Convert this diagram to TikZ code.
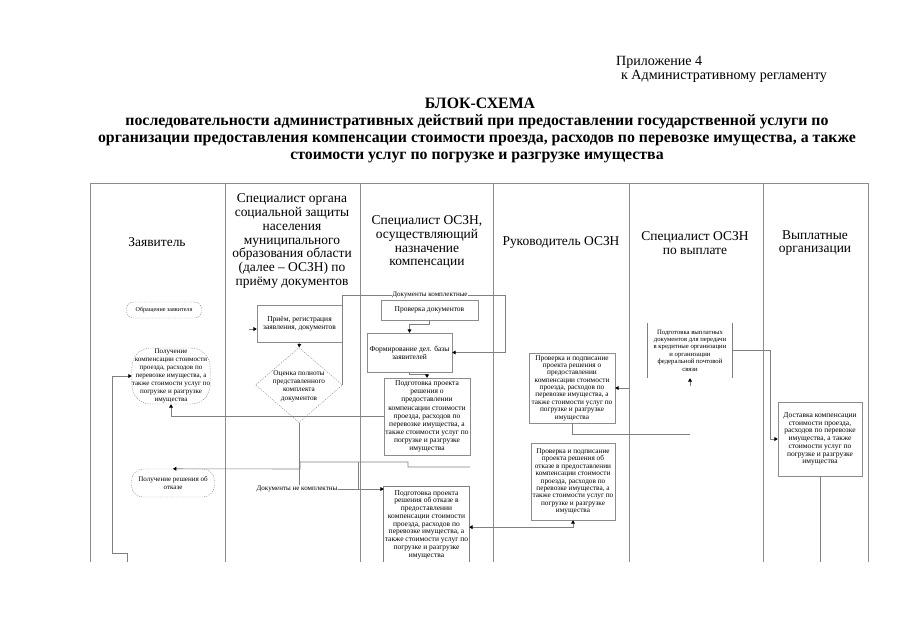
\documentclass[tikz,border=0pt]{standalone}
\usepackage{fontspec}
\setmainfont{Liberation Serif}
\usetikzlibrary{arrows.meta,shapes.geometric}

\begin{document}
\begin{tikzpicture}[x=0.3mm,y=-0.3mm,
  lane/.style={draw=black!45,line width=0.6pt},
  hdr/.style={align=center,font=\fontsize{11.5}{11.8}\selectfont},
  proc/.style={draw=black!45,align=center,inner sep=0.5pt,font=\fontsize{6.4}{6.6}\selectfont},
  term/.style={draw=black!45,dash pattern=on 1pt off 1pt,align=center,inner sep=0pt,font=\fontsize{6}{6.8}\selectfont},
  dec/.style={diamond,draw=black!45,dash pattern=on 1pt off 1pt,inner sep=0pt,font=\fontsize{6.2}{7}\selectfont},
  conn/.style={draw=black!50,line width=0.5pt},
  arr/.style={-{Triangle[length=2.8pt,width=3.2pt,color=black]}},
  lbl/.style={inner sep=0.5pt,font=\fontsize{6}{7}\selectfont}]
\useasboundingbox (0,0) rectangle (905,640);

% heading
\node[anchor=west,font=\fontsize{12}{14}\selectfont] (prilozh) at (612,62) {Приложение 4};
\node[anchor=west,font=\fontsize{12}{14}\selectfont] (reglam) at (617,76) {к Административному регламенту};
\node[font=\bfseries\fontsize{13.5}{15}\selectfont] (blok) at (480,103) {БЛОК-СХЕМА};
\node[align=center,font=\bfseries\fontsize{13.5}{14.6}\selectfont] (zagl) at (477,139)
  {последовательности административных действий при предоставлении государственной услуги по\\
   организации предоставления компенсации стоимости проезда, расходов по перевозке имущества, а также\\
   стоимости услуг по погрузке и разгрузке имущества};

% lanes
\draw[lane] (90,183) -- (868,183);
\foreach \x in {90,225,360,493,629,763,868}
  \draw[lane] (\x,183) -- (\x,562);
\node[hdr] (zayav) at (157,242) {Заявитель};
\node[hdr] (spriem) at (292,241) {Специалист органа\\социальной защиты\\населения\\муниципального\\образования области\\(далее -- ОСЗН) по\\приёму документов};
\node[hdr] (snazn) at (427,242) {Специалист ОСЗН,\\осуществляющий\\назначение\\компенсации};
\node[hdr] (rukov) at (561,242) {Руководитель ОСЗН};
\node[hdr] (svypl) at (695,243) {Специалист ОСЗН\\по выплате};
\node[hdr] (vyplorg) at (815,243) {Выплатные\\организации};

% shapes
\node[term,rounded corners=6pt,minimum width=22.5mm,minimum height=4.8mm,font=\fontsize{5.2}{6}\selectfont] (obr) at (164,310) {Обращение заявителя};
\node[term,rounded corners=16pt,minimum width=23.4mm,minimum height=16.8mm] (polkomp) at (171,376)
  {Получение\\компенсации стоимости\\проезда, расходов по\\перевозке имущества, а\\также стоимости услуг по\\погрузке и разгрузке\\имущества};
\node[term,rounded corners=10pt,minimum width=24.9mm,minimum height=8.4mm] (polotk) at (173,483) {Получение решения об\\отказе};
\node[proc,minimum width=25.5mm,minimum height=11.1mm] (priem) at (299.5,323.5) {Приём, регистрация\\заявления, документов};
\node[dec,minimum width=26.1mm,minimum height=22.5mm] (ocenka) at (299,385)
  {\makebox[0pt]{\smash{\raisebox{-2.5pt}{\begin{tabular}{@{}c@{}}Оценка полноты\\представленного\\комплекта\\документов\end{tabular}}}}};
\node[proc,minimum width=29.1mm,minimum height=6mm] (proverka) at (429.5,310) {Проверка документов};
\node[proc,minimum width=25.5mm,minimum height=11.7mm] (formir) at (409.5,352.5) {Формирование дел. базы\\заявителей};
\node[proc,minimum width=25.8mm,minimum height=23.1mm,font=\fontsize{6.4}{6.9}\selectfont] (podgpred) at (427,416.5)
  {Подготовка проекта\\решения о\\предоставлении\\компенсации стоимости\\проезда, расходов по\\перевозке имущества, а\\также стоимости услуг по\\погрузке и разгрузке\\имущества};
\node[proc,draw=none,minimum width=25.5mm,minimum height=22.5mm] (podgotk) at (426.5,524.5)
  {Подготовка проекта\\решения об отказе в\\предоставлении\\компенсации стоимости\\проезда, расходов по\\перевозке имущества, а\\также стоимости услуг по\\погрузке и разгрузке\\имущества};
\draw[conn] (podgotk.south west) -- (podgotk.north west) -- (podgotk.north east) -- (podgotk.south east);
\node[proc,minimum width=25.8mm,minimum height=21mm,font=\fontsize{6.2}{6.3}\selectfont] (provpred) at (572,388)
  {Проверка и подписание\\проекта решения о\\предоставлении\\компенсации стоимости\\проезда, расходов по\\перевозке имущества, а\\также стоимости услуг по\\погрузке и разгрузке\\имущества};
\node[proc,minimum width=25.2mm,minimum height=23.1mm,font=\fontsize{6.2}{6.3}\selectfont] (provotk) at (573,481.5)
  {Проверка и подписание\\проекта решения об\\отказе в предоставлении\\компенсации стоимости\\проезда, расходов по\\перевозке имущества, а\\также стоимости услуг по\\погрузке и разгрузке\\имущества};
\node[proc,draw=none,minimum width=25.2mm,minimum height=16.5mm,font=\fontsize{5.7}{6.3}\selectfont] (podgvypl) at (690,350.5)
  {Подготовка выплатных\\документов для передачи\\в кредитные организации\\и организации\\федеральной почтовой\\связи};
\draw[conn] (podgvypl.north west) -- (podgvypl.south west);
\draw[conn] (podgvypl.north east) -- (podgvypl.south east);
\node[proc,minimum width=25.2mm,minimum height=22.2mm] (dostavka) at (820,439)
  {Доставка компенсации\\стоимости проезда,\\расходов по перевозке\\имущества, а также\\стоимости услуг по\\погрузке и разгрузке\\имущества};

% connector labels
\node[lbl] (lblkompl) at (430,295) {Документы комплектные};
\node[lbl] (lblnekompl) at (297,489) {Документы не комплектны};

% connectors
\coordinate (priemin) at (249,329);
\draw[conn,arr] (priemin) -- (priemin -| priem.west);
\draw[conn,arr] (priem.south) -- (ocenka.north);
\draw[conn] (ocenka.east) |- (lblkompl.west);
\draw[conn,arr] (lblkompl.east) -- (505,295) |- (formir.east);
\draw[conn,arr] (proverka.south) -- ++(0,4) -| (formir.north);
\draw[conn,arr] (formir.south) -- ++(0,2) -| (podgpred.north);
\draw[conn,arr] (podgpred.west) -| (polkomp.south);
\draw[conn] (ocenka.south) -- (ocenka.south |- lblnekompl.north);
\draw[conn,arr] (lblnekompl.east) -- (lblnekompl.east -| podgotk.west);
\coordinate (otkstart) at (470,467);
\draw[conn,arr] (otkstart) -- (408,467) -- (408,462) -- (300,462) -- (300,469) -- (polotk.north);
\draw[conn] (358,462) -- (358,489);
\coordinate (provin) at (629,388);
\draw[conn,arr] (provin) -- (provpred.east);
\coordinate (vyplA) at (690,434);
\draw[conn] (provpred.south) |- (vyplA);
\coordinate (vyplB) at (690,386);
\draw[conn,arr] (vyplB) -- (podgvypl.south);
\draw[conn,arr] (podgvypl.east) -- ++(38,0) |- (dostavka.west);
\coordinate (dostend) at (820,562);
\draw[conn] (dostavka.south) -- (dostend);
\coordinate (retstart) at (127,562);
\draw[conn,arr] (retstart) -- (127,553) -- (112,553) |- (polkomp.west);
\draw[conn,{Triangle[length=2.8pt,width=3.2pt,color=black]}-{Triangle[length=2.8pt,width=3.2pt,color=black]}]
  ([yshift=-0.8mm]podgotk.east) -| (provotk.south);
\end{tikzpicture}
\end{document}
